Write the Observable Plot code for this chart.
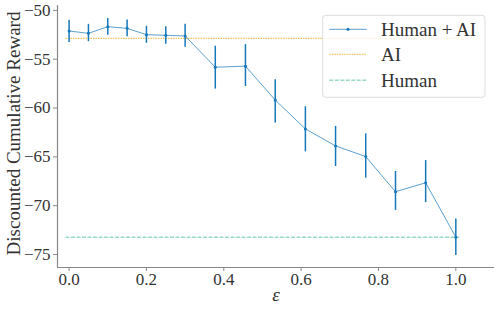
<!DOCTYPE html>
<html>
<head>
<meta charset="utf-8">
<script src="https://cdn.jsdelivr.net/npm/d3@7"></script>
<script src="https://cdn.jsdelivr.net/npm/@observablehq/plot@0.6"></script>
<style>
  html, body { margin: 0; padding: 0; background: #fff; }
  #chart { width: 498px; height: 309px; }
  #chart svg, #chart svg text { font-family: "Liberation Serif", "DejaVu Serif", serif !important; }
</style>
</head>
<body>
<div id="chart"></div>
<script>
// ---- data ----
const eps = [0, 0.05, 0.1, 0.15, 0.2, 0.25, 0.3, 0.378, 0.456, 0.533, 0.611, 0.689, 0.767, 0.844, 0.922, 1.0];
const reward = [-52.11, -52.35, -51.67, -51.84, -52.49, -52.55, -52.62, -55.82, -55.71, -59.18, -62.14, -63.88, -64.97, -68.57, -67.65, -73.23];
const upper = [-51.0, -51.43, -50.82, -50.99, -51.63, -51.67, -51.43, -53.67, -53.51, -57.11, -59.87, -61.88, -62.65, -66.5, -65.38, -71.37];
const lower = [-53.3, -53.2, -52.55, -52.69, -53.37, -53.47, -53.78, -58.06, -57.8, -61.53, -64.49, -65.99, -67.18, -70.48, -69.69, -75.1];
const baselineNames = ["AI", "Human"];
const baselineValues = [-52.86, -73.23];
const baselineSpan = [-0.008, 1.01];
const seriesNames = ["Human + AI", "AI", "Human"];
const xTicks = [0, 0.2, 0.4, 0.6, 0.8, 1.0];
const yTicks = [-75, -70, -65, -60, -55, -50];
const xDomain = [-0.030, 1.100];
const yDomain = [-76.33, -49.5];
const yLabel = "Discounted Cumulative Reward";
const xLabel = "ε";

// ---- styles ----
const blue = "#1677bb";
const orange = "#e69f00";
const green = "#029e73";
const axisGray = "#888";
const textGray = "#333";
const font = "Liberation Serif";

const data = eps.map((e, i) => ({eps: e, reward: reward[i], lo: lower[i], hi: upper[i]}));
const baselines = baselineNames.map((n, i) => ({name: n, value: baselineValues[i], x1: baselineSpan[0], x2: baselineSpan[1]}));

const chart = Plot.plot({
  width: 498,
  height: 309,
  marginLeft: 57,
  marginRight: 4,
  marginTop: 5,
  marginBottom: 42,
  style: {background: "#fff", overflow: "visible"},
  x: {domain: xDomain},
  y: {domain: yDomain},
  marks: [
    Plot.ruleY(baselines.filter(d => d.name === "AI"), {y: "value", x1: "x1", x2: "x2", stroke: orange, strokeOpacity: 0.8, strokeWidth: 1, strokeDasharray: "1.5,1"}),
    Plot.ruleY(baselines.filter(d => d.name === "Human"), {y: "value", x1: "x1", x2: "x2", stroke: green, strokeOpacity: 0.4, strokeWidth: 1.5, strokeDasharray: "4,1.5"}),
    Plot.line(data, {x: "eps", y: "reward", stroke: blue, strokeOpacity: 0.7, strokeWidth: 1}),
    Plot.ruleX(data, {x: "eps", y1: "lo", y2: "hi", stroke: blue, strokeWidth: 1.5}),
    Plot.dot(data, {x: "eps", y: "reward", r: 1.5, fill: blue}),
    Plot.ruleX([xDomain[0]], {stroke: axisGray, strokeWidth: 1.2}),
    Plot.ruleY([yDomain[0]], {stroke: axisGray, strokeWidth: 1.2}),
    Plot.axisY({ticks: yTicks, tickSize: 4, tickPadding: 3, fontSize: 17, fontFamily: font, stroke: axisGray, fill: textGray, label: null,
      tickFormat: d => (d < 0 ? "\u2212" : "") + Math.abs(d)}),
    Plot.axisX({ticks: xTicks, tickSize: 4, tickPadding: 1, fontSize: 17, fontFamily: font, stroke: axisGray, fill: textGray, label: null,
      tickFormat: d => d.toFixed(1)}),
    Plot.text([yLabel], {frameAnchor: "left", rotate: -90, dx: -44, dy: -3, textAnchor: "middle", lineAnchor: "middle", text: d => d, fontSize: 19, fontFamily: font, fill: textGray}),
    Plot.text([xLabel], {frameAnchor: "bottom", dy: 33, textAnchor: "middle", text: d => d, fontSize: 19, fontFamily: font, fontStyle: "italic", fill: textGray})
  ]
});
chart.style.fontFamily = '"Liberation Serif", serif';
document.getElementById("chart").appendChild(chart);

// ---- legend (inside the plot, upper right) ----
const svg = d3.select(chart);
const lg = svg.append("g").attr("font-family", font).attr("font-size", 19).attr("fill", textGray).attr("text-anchor", "start");
lg.append("rect").attr("x", 322.7).attr("y", 15.3).attr("width", 162.3).attr("height", 82)
  .attr("rx", 3).attr("fill", "#fff").attr("fill-opacity", 0.8).attr("stroke", "#ddd").attr("stroke-width", 1);
const rows = [29.3, 54.3, 80.3];
const styles = [
  {stroke: blue, op: 0.7, w: 1, dash: null},
  {stroke: orange, op: 0.8, w: 1, dash: "1.5,1"},
  {stroke: green, op: 0.4, w: 1.5, dash: "4,1.5"}
];
seriesNames.forEach((name, i) => {
  const y = rows[i];
  const s = styles[i];
  const l = lg.append("line").attr("x1", 329.3).attr("x2", 366.7).attr("y1", y).attr("y2", y)
    .attr("stroke", s.stroke).attr("stroke-opacity", s.op).attr("stroke-width", s.w);
  if (s.dash) l.attr("stroke-dasharray", s.dash);
  if (i === 0) lg.append("circle").attr("cx", 348).attr("cy", y).attr("r", 1.5).attr("fill", blue);
  lg.append("text").attr("x", 381).attr("y", y).attr("dy", "0.35em").attr("text-anchor", "start").text(name);
});
</script>
</body>
</html>
